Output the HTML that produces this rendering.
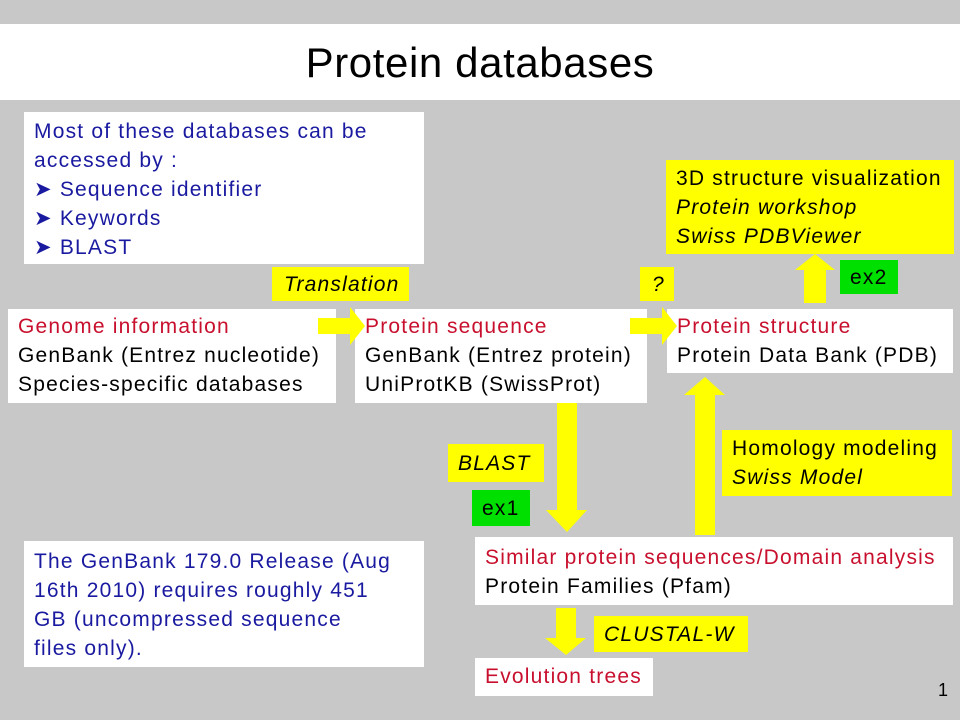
<!DOCTYPE html><html><head><style>
body{margin:0;width:960px;height:720px;background:#c8c8c8;position:relative;overflow:hidden;font-family:"Liberation Sans",sans-serif;font-size:21px;letter-spacing:1.2px;line-height:29px}
.b{position:absolute;box-sizing:border-box;padding:3px 10px;white-space:nowrap}
.w{background:#fff}.y{background:#ffff00}.g{background:#00e000}
.blue{color:#1a1aa0}.red{color:#c8102e}i{font-style:italic}
</style></head><body>
<div style="position:absolute;left:0;top:24px;width:960px;height:76px;background:#fff;text-align:center;font-size:42px;letter-spacing:0.6px;line-height:78px">Protein databases</div>
<div class="b w blue" style="left:24px;top:112px;width:400px;height:152px;padding-top:5px">Most of these databases can be<br>accessed by :<br>&#10148; Sequence identifier<br>&#10148; Keywords<br>&#10148; BLAST</div>
<div class="b y" style="left:666px;top:160px;width:288px;height:94px;padding-top:4px">3D structure visualization<br><i>Protein workshop</i><br><i>Swiss PDBViewer</i></div>
<div class="b y" style="left:272px;top:267px;width:137px;height:34px;padding-left:12px"><i>Translation</i></div>
<div class="b y" style="left:640px;top:267px;width:34px;height:34px;padding-left:12px"><i>?</i></div>
<div class="b g" style="left:840px;top:260px;width:58px;height:34px">ex2</div>
<div class="b w" style="left:8px;top:309px;width:328px;height:94px"><span class="red">Genome information</span><br>GenBank (Entrez nucleotide)<br>Species-specific databases</div>
<div class="b w" style="left:355px;top:309px;width:292px;height:94px"><span class="red">Protein sequence</span><br>GenBank (Entrez protein)<br>UniProtKB (SwissProt)</div>
<div class="b w" style="left:667px;top:309px;width:286px;height:64px"><span class="red">Protein structure</span><br>Protein Data Bank (PDB)</div>
<div class="b y" style="left:722px;top:430px;width:230px;height:66px;padding-top:4px">Homology modeling<br><i>Swiss Model</i></div>
<div class="b y" style="left:448px;top:444px;width:96px;height:38px;padding-top:5px"><i>BLAST</i></div>
<div class="b g" style="left:472px;top:490px;width:58px;height:36px;padding-top:4px">ex1</div>
<div class="b w blue" style="left:24px;top:541px;width:400px;height:126px;padding-top:6px">The GenBank 179.0 Release (Aug<br>16th 2010) requires roughly 451<br>GB (uncompressed sequence<br>files only).</div>
<div class="b w" style="left:475px;top:537px;width:478px;height:68px;padding-top:6px"><span class="red">Similar protein sequences/Domain analysis</span><br>Protein Families (Pfam)</div>
<div class="b y" style="left:594px;top:616px;width:154px;height:36px;padding-top:4px"><i>CLUSTAL-W</i></div>
<div class="b w red" style="left:475px;top:658px;width:178px;height:38px;padding-top:4px">Evolution trees</div>
<div style="position:absolute;left:938px;top:676px;font-size:18px">1</div>
<svg width="960" height="720" style="position:absolute;left:0;top:0">
<g fill="#ffff00">
<polygon points="318,318 350,318 350,307 365,326 350,345 350,334 318,334"/>
<polygon points="630,318 662,318 662,307 677,326 662,345 662,334 630,334"/>
<polygon points="557,403 577,403 577,510 587,510 567,532 546,510 557,510"/>
<polygon points="695,535 715,535 715,395 725,395 705,377 684,395 695,395"/>
<polygon points="804,303 826,303 826,270 835,270 815,254 795,270 804,270"/>
<polygon points="556,608 576,608 576,638 586,638 566,655 545,638 556,638"/>
</g></svg>
</body></html>
